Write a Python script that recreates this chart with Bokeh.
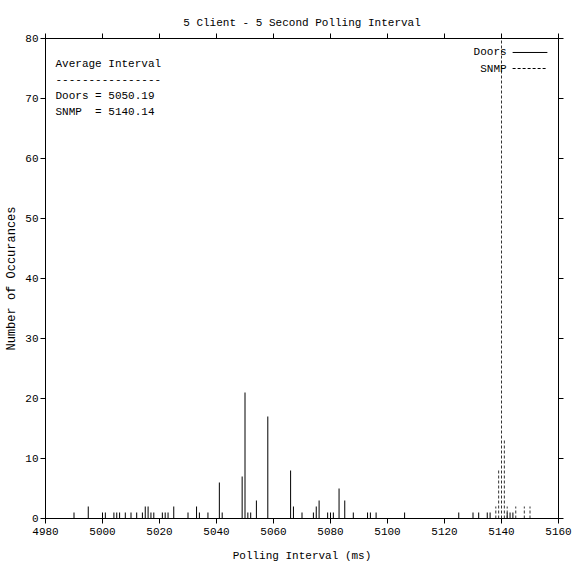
from bokeh.plotting import figure
from bokeh.models import Label, LinearAxis, FixedTicker, Range1d
from bokeh.embed import file_html
from bokeh.resources import INLINE

# ---- data ----
doors_x = [4990, 4995, 5000, 5001, 5004, 5005, 5006, 5008, 5010, 5012, 5014, 5015,
           5016, 5017, 5018, 5021, 5022, 5023, 5025, 5030, 5033, 5034, 5037, 5041,
           5042, 5049, 5050, 5051, 5052, 5054, 5058, 5066, 5067, 5070, 5074, 5075,
           5076, 5079, 5080, 5081, 5083, 5085, 5088, 5093, 5094, 5096, 5106, 5125,
           5130, 5132, 5135, 5136, 5142, 5143, 5144]
doors_y = [1, 2, 1, 1, 1, 1, 1, 1, 1, 1, 1, 2,
           2, 1, 1, 1, 1, 1, 2, 1, 2, 1, 1, 6,
           1, 7, 21, 1, 1, 3, 17, 8, 2, 1, 1, 2,
           3, 1, 1, 1, 5, 3, 1, 1, 1, 1, 1, 1,
           1, 1, 1, 1, 1, 1, 1]
snmp_x = [5138, 5139, 5140, 5141, 5142, 5145, 5148, 5150]
snmp_y = [2, 8, 333, 13, 2, 2, 2, 2]

x_ticks = [4980, 5000, 5020, 5040, 5060, 5080, 5100, 5120, 5140, 5160]
y_ticks = [0, 10, 20, 30, 40, 50, 60, 70, 80]

title_text = "5 Client - 5 Second Polling Interval"
x_label = "Polling Interval (ms)"
y_label = "Number of Occurances"
avg_lines = ["Average Interval", "----------------", "Doors = 5050.19", "SNMP\u00a0 = 5140.14"]
series_names = ["Doors", "SNMP"]

FONT = "Liberation Mono"

p = figure(width=572, height=568, output_backend="svg", toolbar_location=None,
           x_range=Range1d(4980, 5160), y_range=Range1d(0, 80),
           min_border_left=45, min_border_right=14, min_border_top=38,
           min_border_bottom=50, title=title_text)

p.title.align = "center"
p.title.text_font = FONT
p.title.text_font_size = "11px"
p.title.text_font_style = "normal"
p.title.text_color = "black"

p.xgrid.visible = False
p.ygrid.visible = False
p.outline_line_color = "black"
p.outline_line_width = 1
p.background_fill_color = "white"
p.border_fill_color = "white"

def style_axis(ax, ticks, labels=True):
    ax.ticker = FixedTicker(ticks=ticks)
    ax.major_tick_in = 0
    ax.major_tick_out = 5
    ax.minor_tick_line_color = None
    ax.axis_line_color = "black"
    ax.major_tick_line_color = "black"
    ax.major_label_text_font = FONT
    ax.major_label_text_font_size = "11px"
    ax.major_label_text_color = "black"
    if not labels:
        ax.major_label_text_font_size = "0px"
        ax.major_label_text_alpha = 0

style_axis(p.xaxis[0], x_ticks)
style_axis(p.yaxis[0], y_ticks)
p.xaxis[0].axis_label = x_label
p.yaxis[0].axis_label = y_label
for ax in (p.xaxis[0], p.yaxis[0]):
    ax.axis_label_text_font = FONT
    ax.axis_label_text_font_style = "normal"
    ax.axis_label_text_color = "black"
p.xaxis[0].axis_label_text_font_size = "11px"
p.yaxis[0].axis_label_text_font_size = "12px"
p.xaxis[0].axis_label_standoff = 12
p.yaxis[0].axis_label_standoff = 3
p.xaxis[0].major_label_standoff = 4
p.yaxis[0].major_label_standoff = 2

top_ax = LinearAxis()
style_axis(top_ax, x_ticks, labels=False)
p.add_layout(top_ax, "above")
right_ax = LinearAxis()
style_axis(right_ax, y_ticks, labels=False)
p.add_layout(right_ax, "right")

# impulses
p.segment(x0=doors_x, y0=[0] * len(doors_x), x1=doors_x, y1=doors_y,
          line_color="black", line_width=1)
p.segment(x0=snmp_x, y0=[0] * len(snmp_x), x1=snmp_x, y1=snmp_y,
          line_color="#333333", line_width=1, line_dash="3 2")

# average text box
for i, t in enumerate(avg_lines):
    p.add_layout(Label(x=4983.5, y=75.83 - i * 2.667, text=t, text_font=FONT,
                       text_font_size="11px", text_baseline="middle",
                       text_color="black"))

# legend (text right, key sample to the right)
leg_y = [77.67, 75.0]
leg_dash = ["solid", "3 2"]
for name, ly, dash in zip(series_names, leg_y, leg_dash):
    p.add_layout(Label(x=5141.8, y=ly, text=name, text_font=FONT, text_font_size="11px",
                       text_align="right", text_baseline="middle", text_color="black"))
    p.segment(x0=[5143.9], y0=[ly], x1=[5156.1], y1=[ly], line_color="black",
              line_width=1, line_dash=dash)

open("out.html", "w").write(file_html(p, INLINE))
